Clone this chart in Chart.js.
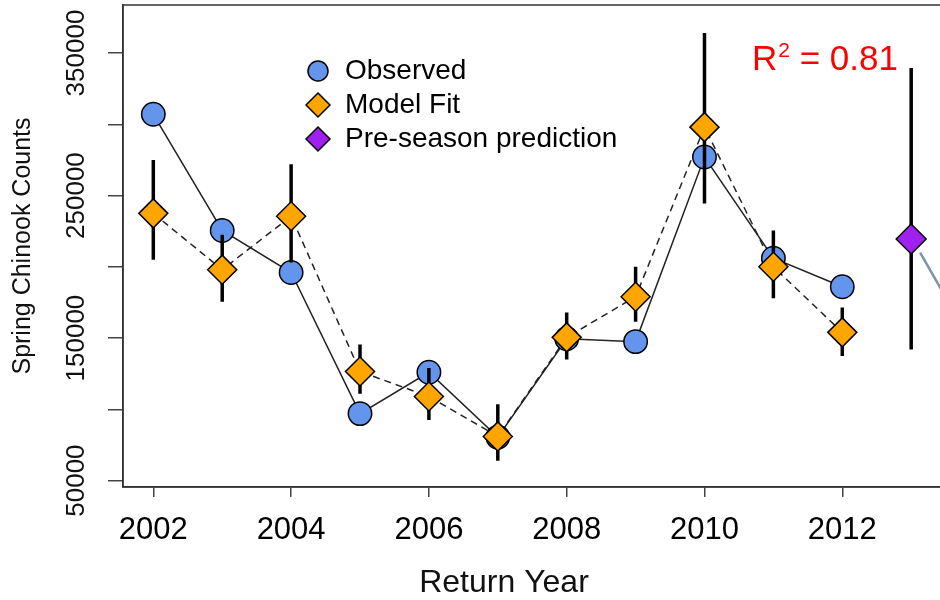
<!DOCTYPE html>
<html>
<head>
  <title>Spring Chinook Counts</title>
  <script src="https://cdn.jsdelivr.net/npm/chart.js"></script>
  <style>
    body { margin: 0; overflow: hidden; background: #fff; }
    .wrap { width: 950px; height: 600px; }
  </style>
</head>
<body>
  <div class="wrap"><canvas id="runChart"></canvas></div>

<script>
  // values
  const years = [2002, 2003, 2004, 2005, 2006, 2007, 2008, 2009, 2010, 2011, 2012];
  const observed = [307000, 225500, 196000, 97000, 126000, 80500, 149500, 147500, 277000, 206000, 186000];
  const modelFit = [237500, 198000, 235500, 126500, 109000, 81000, 150500, 179000, 298000, 200000, 154000];
  const fitLower = [205000, 175500, 203000, 111000, 92500, 64000, 135000, 161500, 244500, 178000, 137500];
  const fitUpper = [275000, 222500, 272000, 145500, 129000, 103500, 168000, 200000, 364000, 225500, 171500];

  const predYear = [2013];
  const predValue = [219500];
  const predLower = [142000];
  const predUpper = [339500];

  // the grey pointer line leaving the prediction marker
  const calloutX = [2013.13, 2013.45];
  const calloutY = [209900, 183000];

  const xTicks = [2002, 2004, 2006, 2008, 2010, 2012];
  const yTicks = [50000, 100000, 150000, 200000, 250000, 300000, 350000];
  const yLabelled = [50000, 150000, 250000, 350000];

  const FONT = '"Liberation Sans", Arial, sans-serif';

  function pts(xs, ys) {
    return xs.map((x, i) => ({ x: x, y: ys[i] }));
  }

  // vertical bars, separated by nulls so the line breaks between them
  const barData = [];
  years.concat(predYear).forEach((yr, i) => {
    const lo = i < years.length ? fitLower[i] : predLower[i - years.length];
    const hi = i < years.length ? fitUpper[i] : predUpper[i - years.length];
    barData.push({ x: yr, y: lo }, { x: yr, y: hi }, { x: yr, y: null });
  });

  const legendItems = [
    { label: 'Observed', style: 'circle', color: '#6495ED' },
    { label: 'Model Fit', style: 'diamond', color: '#FFA500' },
    { label: 'Pre-season prediction', style: 'diamond', color: '#A020F0' }
  ];

  const extras = {
    id: 'extras',
    afterDraw(chart) {
      const ctx = chart.ctx;
      const a = chart.chartArea;
      ctx.save();
      ctx.strokeStyle = '#333';
      ctx.lineWidth = 1.5;
      ctx.strokeRect(a.left, a.top, a.right - a.left, a.bottom - a.top);

      // legend
      legendItems.forEach((it, i) => {
        const cx = 318, cy = 71 + i * 34;
        ctx.beginPath();
        if (it.style === 'circle') {
          ctx.arc(cx, cy, 10, 0, Math.PI * 2);
        } else {
          ctx.moveTo(cx, cy - 12); ctx.lineTo(cx + 12, cy);
          ctx.lineTo(cx, cy + 12); ctx.lineTo(cx - 12, cy);
          ctx.closePath();
        }
        ctx.fillStyle = it.color;
        ctx.fill();
        ctx.lineWidth = 1.5;
        ctx.strokeStyle = '#000';
        ctx.stroke();
        ctx.fillStyle = '#000';
        ctx.font = '28px ' + FONT;
        ctx.textBaseline = 'middle';
        ctx.textAlign = 'left';
        ctx.fillText(it.label, 345, cy);
      });

      // x axis title (centred on the original plot region, not the cropped one)
      ctx.fillStyle = '#111';
      ctx.font = '32px ' + FONT;
      ctx.textAlign = 'center';
      ctx.textBaseline = 'middle';
      ctx.fillText('Return Year', 504, 583);

      // R squared
      ctx.fillStyle = '#ff0000';
      ctx.textAlign = 'left';
      ctx.textBaseline = 'alphabetic';
      let x = 752;
      const y = 70;
      ctx.font = '35px ' + FONT;
      ctx.fillText('R', x, y);
      x += ctx.measureText('R').width + 1;
      ctx.font = '21px ' + FONT;
      ctx.fillText('2', x, y - 13);
      x += ctx.measureText('2').width;
      ctx.font = '35px ' + FONT;
      ctx.fillText(' = 0.81', x, y);
      ctx.restore();
    }
  };

  new Chart(document.getElementById('runChart'), {
    type: 'line',
    data: {
      datasets: [
        {
          label: 'observed line',
          data: pts(years, observed),
          borderColor: '#222', borderWidth: 1.5, pointRadius: 0, order: 7
        },
        {
          label: 'fit line',
          data: pts(years, modelFit),
          borderColor: '#222', borderWidth: 1.5, borderDash: [7, 5], pointRadius: 0, order: 6
        },
        {
          label: 'callout',
          data: pts(calloutX, calloutY),
          borderColor: '#7D93A6', borderWidth: 2.5, pointRadius: 0, order: 5, clip: false
        },
        {
          label: 'Observed',
          data: pts(years, observed),
          showLine: false, pointStyle: 'circle', pointRadius: 11.7,
          pointBackgroundColor: '#6495ED', pointBorderColor: '#000', pointBorderWidth: 1.5, order: 4
        },
        {
          label: 'bars',
          data: barData,
          borderColor: '#000', borderWidth: 3.5, borderCapStyle: 'butt', pointRadius: 0,
          spanGaps: false, order: 3
        },
        {
          label: 'Model Fit',
          data: pts(years, modelFit),
          showLine: false, pointStyle: 'rectRot', pointRadius: 14.5,
          pointBackgroundColor: '#FFA500', pointBorderColor: '#000', pointBorderWidth: 1.5, order: 2
        },
        {
          label: 'Pre-season prediction',
          data: pts(predYear, predValue),
          showLine: false, pointStyle: 'rectRot', pointRadius: 15,
          pointBackgroundColor: '#A020F0', pointBorderColor: '#000', pointBorderWidth: 1.5, order: 1
        }
      ]
    },
    options: {
      responsive: true,
      maintainAspectRatio: false,
      animation: false,
      layout: { autoPadding: false, padding: { top: 5, right: 8.5, left: 0, bottom: 0 } },
      plugins: { legend: { display: false }, tooltip: { enabled: false } },
      scales: {
        x: {
          type: 'linear',
          min: 2001.56,
          max: 2013.44,
          afterBuildTicks: s => { s.ticks = xTicks.map(v => ({ value: v })); },
          afterFit: s => { s.height = 113; },
          border: { display: true, color: '#333', width: 1.5 },
          grid: { drawOnChartArea: false, tickLength: 10, color: '#444', lineWidth: 1.5 },
          ticks: {
            autoSkip: false, maxRotation: 0, padding: 15, color: '#000',
            font: { family: FONT, size: 31 },
            callback: v => String(v)
          },
          title: { display: false }
        },
        y: {
          min: 45500,
          max: 383700,
          afterBuildTicks: s => { s.ticks = yTicks.map(v => ({ value: v })); },
          afterFit: s => { s.width = 123; },
          border: { display: true, color: '#333', width: 1.5 },
          grid: { drawOnChartArea: false, tickLength: 15, color: '#444', lineWidth: 1.5 },
          ticks: {
            autoSkip: false, minRotation: 90, maxRotation: 90, crossAlign: 'center',
            padding: -12, color: '#111',
            font: { family: FONT, size: 26 },
            callback: v => yLabelled.includes(v) ? String(v) : ''
          },
          title: {
            display: true, text: 'Spring Chinook Counts', color: '#111',
            font: { family: FONT, size: 25 }, padding: { top: 8, bottom: 0 }
          }
        }
      }
    },
    plugins: [extras]
  });
</script>
</body>
</html>
